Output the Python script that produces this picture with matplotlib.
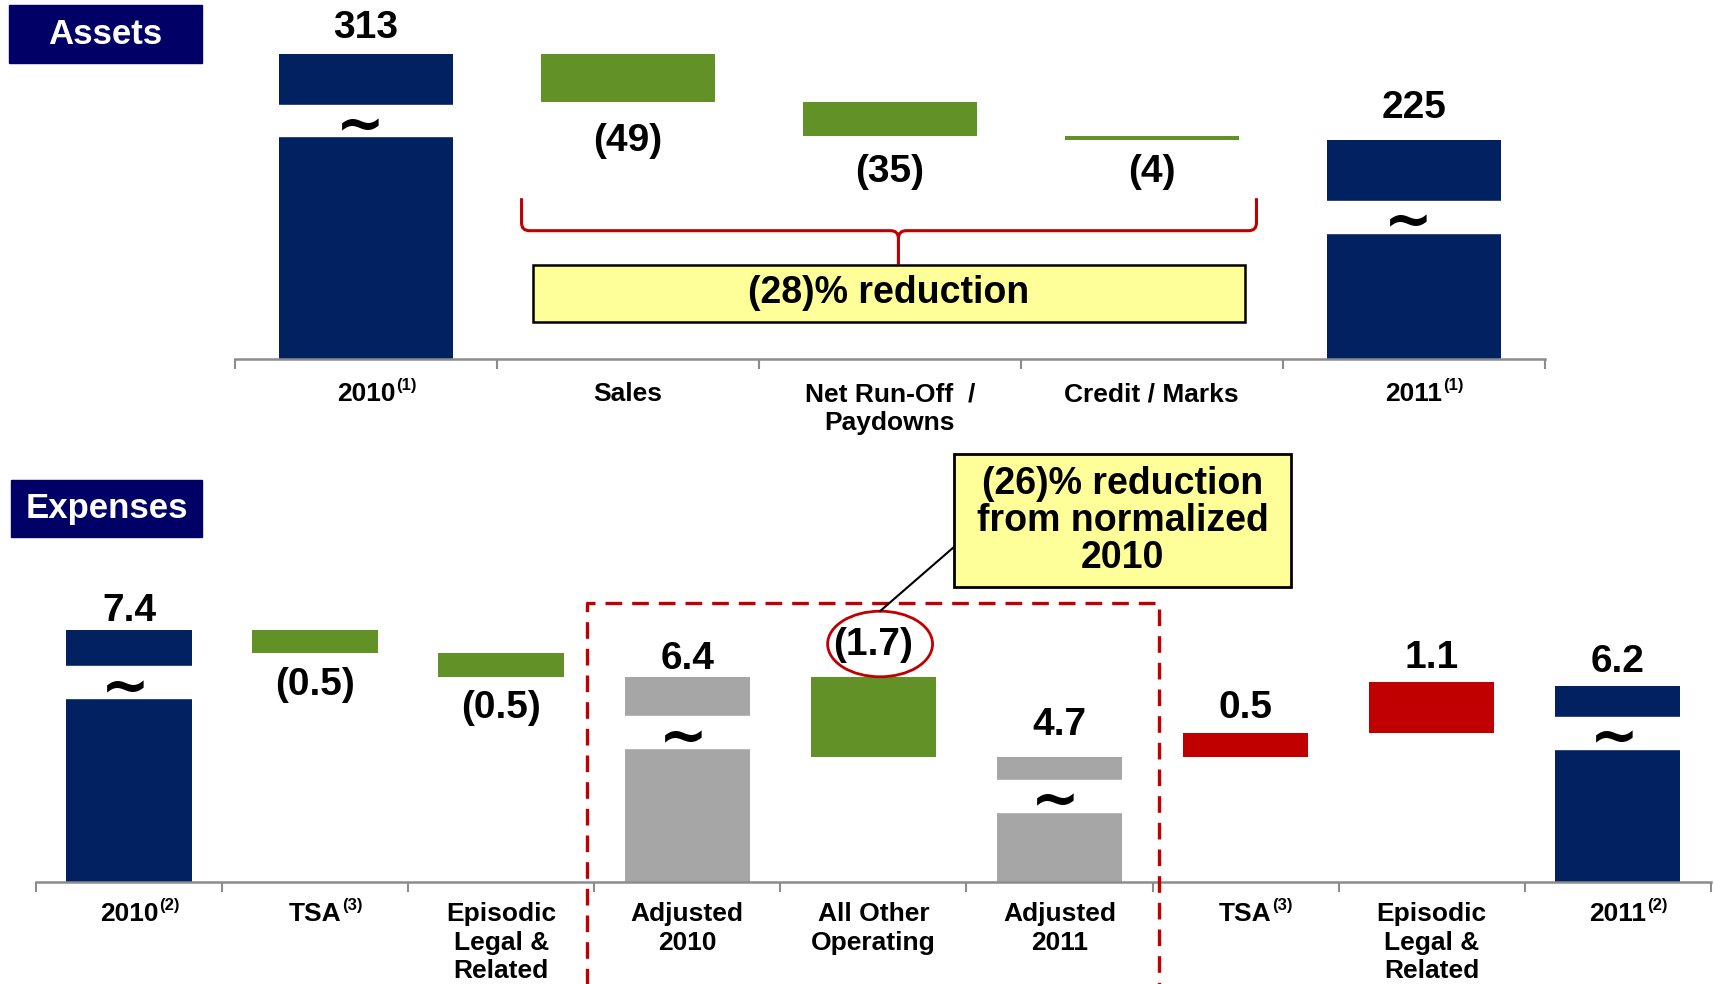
import matplotlib
matplotlib.use("Agg")
import matplotlib.pyplot as plt
from matplotlib.patches import Rectangle, Ellipse, PathPatch
from matplotlib.path import Path
import numpy as np

plt.rcParams['font.family'] = ['Liberation Sans Narrow', 'Liberation Sans', 'DejaVu Sans']
plt.rcParams['font.weight'] = 'bold'

NAVY = '#022160'
GREEN = '#629128'
GREY = '#A6A6A6'
RED = '#C00000'
BOXBLUE = '#000066'
YELLOW = '#FFFF99'
AXGREY = '#8C8C8C'

# --- data ---
asset_cats = ['2010', 'Sales', 'Net Run-Off  /\nPaydowns', 'Credit / Marks', '2011']
asset_sups = ['(1)', '', '', '', '(1)']
asset_vals = [313, -49, -35, -4, 225]
asset_kind = ['total', 'delta', 'delta', 'delta', 'total']
asset_labels = ['313', '(49)', '(35)', '(4)', '225']

exp_cats = ['2010', 'TSA', 'Episodic\nLegal &\nRelated', 'Adjusted\n2010', 'All Other\nOperating',
            'Adjusted\n2011', 'TSA', 'Episodic\nLegal &\nRelated', '2011']
exp_sups = ['(2)', '(3)', '', '', '', '', '(3)', '', '(2)']
exp_vals = [7.4, -0.5, -0.5, 6.4, -1.7, 4.7, 0.5, 1.1, 6.2]
exp_kind = ['total', 'delta', 'delta', 'adj', 'delta', 'adj', 'delta', 'delta', 'total']
exp_labels = ['7.4', '(0.5)', '(0.5)', '6.4', '(1.7)', '4.7', '0.5', '1.1', '6.2']

# style: label placement (side, distance in px from bar edge to label centre)
asset_lpos = [('above', 23), ('below', 36), ('below', 33), ('below', 29), ('above', 29)]
exp_lpos = [('above', 17), ('below', 29), ('below', 28), ('above', 16), ('above', 29),
            ('above', 29), ('above', 23), ('above', 22), ('above', 22)]
# axis-break gap (distance below top, in data units)
asset_breaks = {0: 52, 4: 62}
exp_breaks = {0: 0.77, 3: 0.84, 5: 0.49, 8: 0.65}

PT = 1.093 * 0.72  # reference px -> points


def waterfall(ax, vals, kinds, width):
    run = 0
    spans = []
    for i, (v, k) in enumerate(zip(vals, kinds)):
        if k == 'delta':
            lo, hi = sorted([run, run + v])
            run += v
            color = GREEN if v < 0 else RED
        else:
            lo, hi = 0, v
            run = v
            color = NAVY if k == 'total' else GREY
        ax.bar(i, hi - lo, bottom=lo, width=width, color=color, zorder=2)
        spans.append((lo, hi))
    return spans


def add_breaks(ax, spans, breaks, gap, width):
    for i, off in breaks.items():
        top = spans[i][1] - off
        ax.add_patch(Rectangle((i - width / 2 - 0.01, top - gap), width + 0.02, gap,
                               color='white', zorder=3))
        ax.text(i - 0.02, top - gap * 0.7, '~', ha='center', va='center',
                fontsize=42, family='DejaVu Sans', fontweight='bold', zorder=4)


def add_values(ax, spans, labels, lpos, fs):
    for i, (s, t, (side, d)) in enumerate(zip(spans, labels, lpos)):
        y, off = (s[1], d) if side == 'above' else (s[0], -d)
        ax.annotate(t, (i, y), xytext=(0, off * PT), textcoords='offset points',
                    ha='center', va='center', fontsize=fs, zorder=5)


def style_axis(ax, n, cats, sups, pad):
    ax.set_xlim(-0.5, n - 0.5)
    for s in ['top', 'left', 'right']:
        ax.spines[s].set_visible(False)
    ax.spines['bottom'].set_color(AXGREY)
    ax.spines['bottom'].set_linewidth(1.8)
    ax.set_yticks([])
    ax.set_xticks([])
    ax.set_xticks(np.arange(-0.5, n), minor=True)
    ax.tick_params(which='minor', length=7, width=1.5, color=AXGREY, labelbottom=False)
    for i, (c, s) in enumerate(zip(cats, sups)):
        t = ax.annotate(c, (i, 0), xycoords=ax.get_xaxis_transform(), xytext=(0, -pad),
                        textcoords='offset points', ha='center', va='top',
                        fontsize=19, linespacing=1.25, annotation_clip=False)
        if s:
            ax.annotate(s, (1, 0.85), xycoords=t, xytext=(0.5, 0), textcoords='offset points',
                        ha='left', va='center', fontsize=12)


fig = plt.figure(figsize=(17.14, 9.84), dpi=100)

# ---------------- Assets ----------------
ax1 = fig.add_axes([215 / 1568, 1 - 328 / 900, 1198 / 1568, 328 / 900])
ax1.set_ylim(3, 367.4)
w1 = 0.664
sp1 = waterfall(ax1, asset_vals, asset_kind, w1)
add_breaks(ax1, sp1, asset_breaks, 32, w1)
add_values(ax1, sp1, asset_labels, asset_lpos, 28)
style_axis(ax1, len(asset_cats), asset_cats, asset_sups, 17)

# brace
xL, xR, xM = 0.594, 3.40, 2.033
yT, yH, yB = 166, 133, 98.6
dx, dy = 0.03, 8
verts = [(xL, yT), (xL, yH + dy), (xL, yH), (xL + dx, yH), (xM - dx, yH), (xM, yH), (xM, yH - dy), (xM, yB),
         (xM, yH - dy), (xM, yH), (xM + dx, yH), (xR - dx, yH), (xR, yH), (xR, yH + dy), (xR, yT)]
codes = [Path.MOVETO, Path.LINETO, Path.CURVE3, Path.CURVE3, Path.LINETO, Path.CURVE3, Path.CURVE3, Path.LINETO,
         Path.MOVETO, Path.CURVE3, Path.CURVE3, Path.LINETO, Path.CURVE3, Path.CURVE3, Path.LINETO]
ax1.add_patch(PathPatch(Path(verts, codes), fill=False, edgecolor=RED, lw=2.2, zorder=4))
ax1.add_patch(Rectangle((0.636, 39.7), 2.721, 58.9, facecolor=YELLOW, edgecolor='black', lw=1.8, zorder=4))
ax1.text(1.996, 70, '(28)% reduction', ha='center', va='center', fontsize=27, zorder=5)

# ---------------- Expenses ----------------
ax2 = fig.add_axes([33 / 1568, 0.1033, 1532 / 1568, 0.4429])
ax2.set_ylim(2.03, 11.3)
w2 = 0.675
sp2 = waterfall(ax2, exp_vals, exp_kind, w2)
add_breaks(ax2, sp2, exp_breaks, 0.68, w2)
add_values(ax2, sp2, exp_labels, exp_lpos, 28)
style_axis(ax2, len(exp_cats), exp_cats, exp_sups, 14)

# dashed box around the normalized comparison
ax2.plot([2.461, 2.461, 5.534, 5.534], [-0.5, 7.98, 7.98, -0.5], color=RED, lw=2.4,
         dashes=(5, 3), clip_on=False, zorder=6)
# callout
ax2.add_patch(Ellipse((4.036, 7.1), 0.564, 1.395, fill=False, edgecolor=RED, lw=2, zorder=6, clip_on=False))
ax2.plot([4.435, 4.036], [9.17, 7.8], color='black', lw=1.5, clip_on=False, zorder=6)
ax2.add_patch(Rectangle((4.435, 8.31), 1.81, 2.83, facecolor=YELLOW, edgecolor='black', lw=2,
                        clip_on=False, zorder=6))
ax2.text(5.34, 9.72, '(26)% reduction\nfrom normalized\n2010', ha='center', va='center',
         fontsize=27, linespacing=1.04, zorder=7)

# section tags
for (x0, y0, w, h, label) in [(8, 5, 177, 53, 'Assets'), (10, 439, 175, 52, 'Expenses')]:
    fig.add_artist(Rectangle((x0 / 1568, 1 - (y0 + h) / 900), w / 1568, h / 900,
                             transform=fig.transFigure, color=BOXBLUE))
    fig.text((x0 + w / 2) / 1568, 1 - (y0 + h / 2) / 900, label, ha='center', va='center',
             color='white', fontsize=25)

fig.savefig('out.png', dpi=100)
